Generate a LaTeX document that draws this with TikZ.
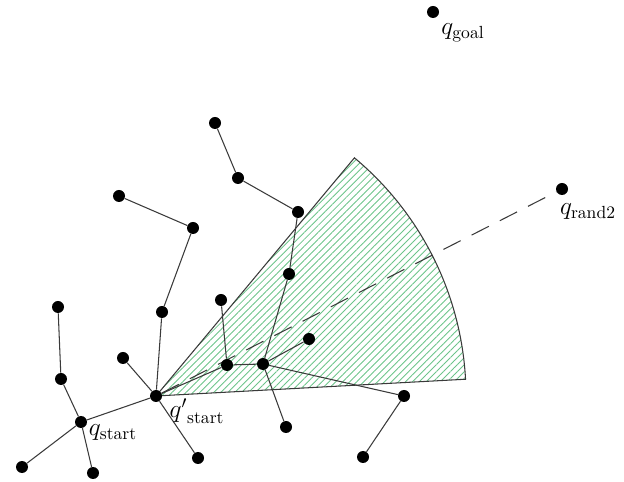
\documentclass[tikz,border=0pt]{standalone}
\usepackage{amsmath}
\usepackage{tikz}
\usetikzlibrary{patterns.meta,backgrounds}
\definecolor{hatchgreen}{HTML}{6CC48A}
\definecolor{lineGray}{HTML}{3A3A3A}
\tikzset{
    vertex/.style={circle,fill=black,inner sep=0pt,minimum size=0.24cm},
    edge/.style={lineGray,line width=0.6pt},
    sector/.style={draw=lineGray,line width=0.6pt,pattern={Lines[angle=45,distance=2.8pt,line width=0.5pt]},pattern color=hatchgreen},
    guide/.style={lineGray,line width=0.6pt,dash pattern=on 11pt off 7pt},
    tag/.style={font=\Large,inner sep=1pt}
}

\begin{document}
\begin{tikzpicture}
    \useasboundingbox (0,0) rectangle (12.48,9.62);

    % tree vertices
    \node[vertex] (qgoal) at (8.66,9.38) {};
    \node[vertex] (qrand) at (11.24,5.84) {};
    \node[vertex] (qs) at (1.62,1.18) {};
    \node[vertex] (qp) at (3.12,1.70) {};
    \node[vertex] (va) at (0.44,0.28) {};
    \node[vertex] (vb) at (1.86,0.16) {};
    \node[vertex] (vc) at (1.22,2.04) {};
    \node[vertex] (vd) at (1.16,3.48) {};
    \node[vertex] (ve) at (2.46,2.46) {};
    \node[vertex] (vf) at (3.96,0.46) {};
    \node[vertex] (vg) at (3.24,3.38) {};
    \node[vertex] (vh) at (3.86,5.06) {};
    \node[vertex] (vi) at (2.38,5.70) {};
    \node[vertex] (vj) at (4.54,2.32) {};
    \node[vertex] (vk) at (4.42,3.62) {};
    \node[vertex] (vl) at (5.26,2.34) {};
    \node[vertex] (vm) at (6.18,2.84) {};
    \node[vertex] (vn) at (5.78,4.14) {};
    \node[vertex] (vo) at (5.96,5.38) {};
    \node[vertex] (vp) at (4.76,6.06) {};
    \node[vertex] (vr) at (4.30,7.16) {};
    \node[vertex] (vs) at (8.08,1.70) {};
    \node[vertex] (vt) at (7.26,0.48) {};
    \node[vertex] (vu) at (5.72,1.08) {};

    % labels
    \node[tag] (lgoal) at (9.26,8.96) {$q_{\text{goal}}$};
    \node[tag] (lrand) at (11.76,5.38) {$q_{\text{rand2}}$};
    \node[tag] (lstart) at (2.26,0.96) {$q_{\text{start}}$};
    \node[tag] (lnew) at (3.94,1.40) {${q'}_{\text{start}}$};

    \begin{scope}[on background layer]
        % sampling sector
        \draw[sector] (qp.center) -- ++(50.2:6.2) arc[start angle=50.2,end angle=3.1,radius=6.2] -- cycle;
        % edges
        \foreach \a/\b in {qs/va,qs/vb,qs/vc,vc/vd,qs/qp,qp/ve,qp/vf,qp/vg,vg/vh,vh/vi,
                           qp/vj,vj/vk,vj/vl,vl/vm,vl/vn,vn/vo,vo/vp,vp/vr,vl/vs,vs/vt,vl/vu}
            \draw[edge] (\a) -- (\b);
        \draw[guide] (qp) -- (qrand);
    \end{scope}
\end{tikzpicture}
\end{document}
